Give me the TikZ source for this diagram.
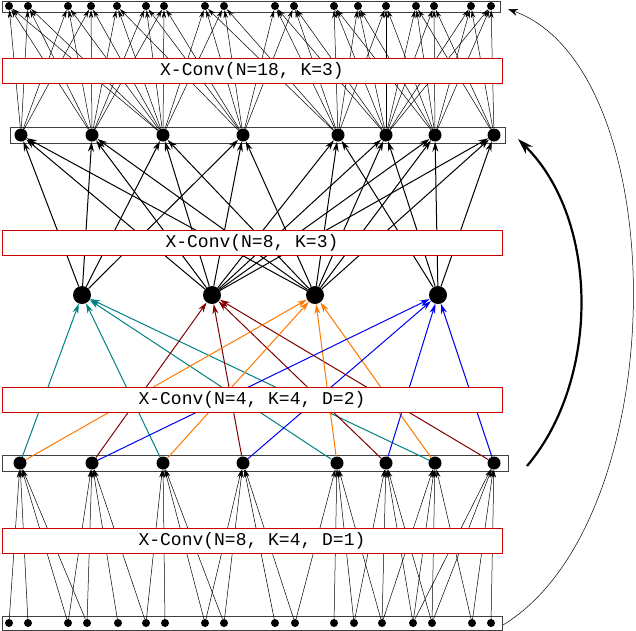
\documentclass[tikz,border=0pt]{standalone}
\usepackage{fontspec}
\setmonofont{Liberation Mono}
\usetikzlibrary{arrows.meta}
\begin{document}
\begin{tikzpicture}[x=1pt,y=-1pt,
  dot/.style={circle,fill=black,inner sep=0pt,minimum size=#1},
  thinarr/.style={-{Stealth[length=8pt,width=4.5pt]},line width=0.5pt},
  medarr/.style={-{Stealth[length=10pt,width=6pt]},line width=1pt},
  layerbox/.style={draw=black!75,line width=0.7pt},
  label/.style={draw=red!80!black,fill=white,line width=1pt,minimum width=500pt,minimum height=25pt,inner sep=0pt,font=\ttfamily\fontsize{18}{20}\selectfont}]
\useasboundingbox (0,0) rectangle (636,630);
\definecolor{cteal}{RGB}{0,128,128}
\definecolor{cred}{RGB}{128,0,0}
\definecolor{corange}{RGB}{255,120,0}
\definecolor{cblue}{RGB}{0,0,240}
% layer boxes
\draw[layerbox] (2,1) rectangle (500,12);
\draw[layerbox] (10,127) rectangle (505,143);
\draw[layerbox] (2,455) rectangle (508,471);
\draw[layerbox] (2,616) rectangle (502,630);
% nodes
\foreach \x [count=\i] in {9,28,68,87,118,146,165,205,224,275,295,334,354,382,413,432,472,491}
  \node[dot=8pt] (b\i) at (\x,623) {};
\foreach \x [count=\i] in {9,28,68,91,117,146,164,205,224,275,294,334,358,386,416,434,471,491}
  \node[dot=8pt] (t\i) at (\x,6) {};
\foreach \x [count=\i] in {21,92,163,243,338,386,435,494}
  \node[dot=13pt] (l\i) at (\x,135) {};
\foreach \x [count=\i] in {20,92,163,243,337,386,435,494}
  \node[dot=13pt] (u\i) at (\x,463) {};
\foreach \x [count=\i] in {82,212,315,438}
  \node[dot=18pt] (m\i) at (\x,295) {};
% bottom -> u
\foreach \u/\lst in {1/{1,2,3,4},2/{3,4,5,6},3/{6,7,8,9},4/{8,9,10,11},5/{11,12,13,14},6/{13,14,15,16},7/{14,15,16,17},8/{15,16,17,18}}
  \foreach \s in \lst \draw[thinarr] (b\s) -- (u\u);
% l -> top
\foreach \t/\lst in {1/{1,2,3},2/{1,2,3},3/{1,2,3},4/{1,2,3},5/{2,3,4},6/{2,3,4},7/{2,3,4},8/{3,4,5},9/{3,4,5},10/{4,5,6},11/{4,5,6},12/{5,6,7},13/{5,6,7},14/{5,6,7},15/{6,7,8},16/{6,7,8},17/{6,7,8},18/{6,7,8}}
  \foreach \s in \lst \draw[thinarr] (l\s) -- (t\t);
% m -> l
\foreach \l/\lst in {1/{1,2,3},2/{1,2,3},3/{1,2,3},4/{1,2,3},5/{2,3,4},6/{2,3,4},7/{2,3,4},8/{2,3,4}}
  \foreach \s in \lst \draw[medarr] (m\s) -- (l\l);
% u -> m, colored
\foreach \s in {1,3,5,7} \draw[medarr,cteal] (u\s) -- (m1);
\foreach \s in {2,4,6,8} \draw[medarr,cred] (u\s) -- (m2);
\foreach \s in {1,3,5,7} \draw[medarr,corange] (u\s) -- (m3);
\foreach \s in {2,4,6,8} \draw[medarr,cblue] (u\s) -- (m4);
% labels
\node[label] (L1) at (252,71) {X-Conv(N=18, K=3)};
\node[label] (L2) at (252,243) {X-Conv(N=8, K=3)};
\node[label] (L3) at (252,400) {X-Conv(N=4, K=4, D=2)};
\node[label] (L4) at (252,541) {X-Conv(N=8, K=4, D=1)};
% skip arrows
\coordinate (s1) at (503,625);
\coordinate (e1) at (508,9);
\draw[-{Stealth[length=10pt,width=7pt]},line width=0.5pt] (s1) .. controls (675,520) and (675,70) .. (e1);
\coordinate (s2) at (527,466);
\coordinate (e2) at (518,139);
\draw[-{Stealth[length=16pt,width=10pt]},line width=2.2pt] (s2) .. controls (600,380) and (600,220) .. (e2);
\end{tikzpicture}
\end{document}
